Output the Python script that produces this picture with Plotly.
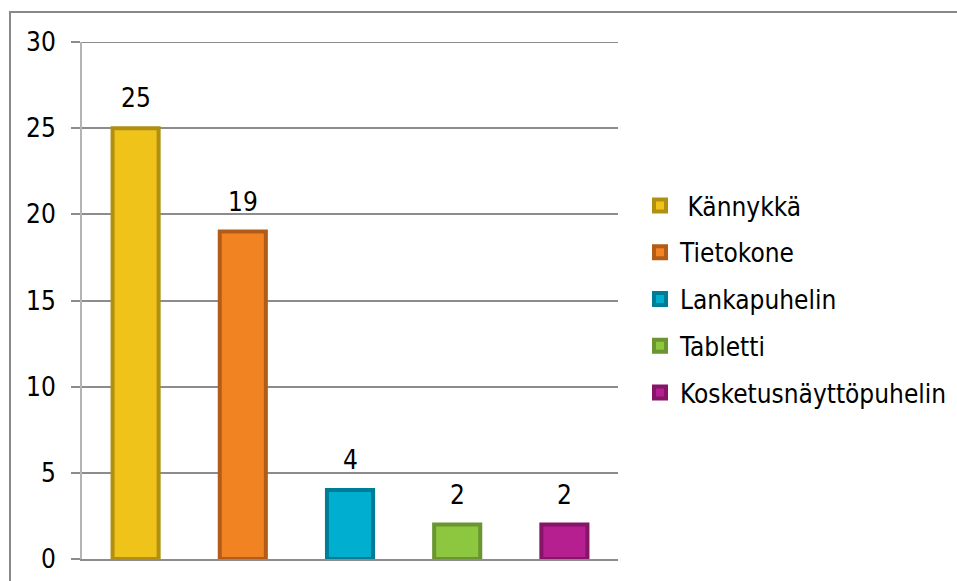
import plotly.graph_objects as go

categories = [" Kännykkä", "Tietokone", "Lankapuhelin", "Tabletti", "Kosketusnäyttöpuhelin"]
values = [25, 19, 4, 2, 2]
fill_colors = ["#EFC31A", "#F28322", "#00AECF", "#8DC63F", "#B51F90"]
line_colors = ["#B08F12", "#B35C1A", "#007D96", "#6A9530", "#861469"]
y_ticks = [0, 5, 10, 15, 20, 25, 30]

FONT = "DejaVu Sans Condensed, DejaVu Sans, sans-serif"
FS = 26

fig = go.Figure()
for cat, val, fc, lc in zip(categories, values, fill_colors, line_colors):
    fig.add_trace(go.Bar(
        x=[cat], y=[val], name=cat, legendgroup=cat,
        marker=dict(color=fc, line=dict(color=lc, width=4)),
        width=0.43,
    ))
    fig.add_annotation(x=cat, y=val, text=str(val), showarrow=False,
                       yanchor="bottom", yshift=13,
                       font=dict(size=FS, color="black", family=FONT))

W, H = 957, 581
L, R, T, B = 82, 618, 42, 559
px = lambda v: (v - L) / (R - L)
py = lambda v: (B - v) / (B - T)

fig.add_shape(type="rect", xref="paper", yref="paper",
              x0=px(10), x1=px(980), y0=py(600), y1=py(12),
              line=dict(color="#898989", width=2), layer="below")
# top gridline at the max tick
fig.add_shape(type="line", xref="paper", yref="y",
              x0=0, x1=1, y0=y_ticks[-1], y1=y_ticks[-1],
              line=dict(color="#8c8c8c", width=2), layer="below")

fig.update_layout(
    width=W, height=H,
    margin=dict(l=L, r=W - R, t=T, b=H - B, autoexpand=False),
    paper_bgcolor="white", plot_bgcolor="white",
    barmode="overlay",
    font=dict(family=FONT, size=FS, color="black"),
    showlegend=True,
    legend=dict(x=px(640), y=py(182), xanchor="left", yanchor="top",
                font=dict(size=FS, family=FONT), tracegroupgap=10,
                traceorder="grouped",
                itemwidth=30, bgcolor="rgba(0,0,0,0)"),
    xaxis=dict(showticklabels=False, ticks="", showgrid=False,
               showline=True, linecolor="#8c8c8c", linewidth=2,
               range=[-0.5, 4.5], zeroline=False),
    yaxis=dict(range=[0, 30], tickvals=y_ticks, showgrid=True,
               gridcolor="#8c8c8c", gridwidth=2, zeroline=False,
               showline=True, linecolor="#b4b4b4", linewidth=2,
               ticks="outside", ticklen=9, tickcolor="#8c8c8c", tickwidth=2,
               ticklabelstandoff=10,
               tickfont=dict(size=FS, color="black", family=FONT)),
)

fig.write_html("out.html")
